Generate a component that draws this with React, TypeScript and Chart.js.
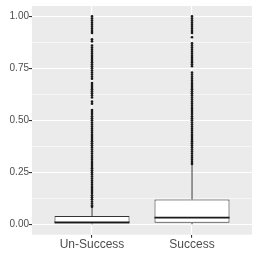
import React, { useEffect, useRef } from "react";
import { Chart, registerables } from "chart.js";
Chart.register(...registerables);

const categories = ["Un-Success", "Success"];
const q1 = [0.004, 0.007];
const medians = [0.0095, 0.032];
const q3 = [0.04, 0.119];
const whiskerLow = [0, 0];
const whiskerHigh = [0.084, 0.285];

const unSuccessOutliers = [
  0.085, 0.09, 0.1, 0.11, 0.12, 0.13, 0.14, 0.15, 0.16, 0.17, 0.18, 0.19, 0.2,
  0.21, 0.22, 0.23, 0.24, 0.25, 0.26, 0.27, 0.28, 0.29, 0.3, 0.31, 0.32, 0.33,
  0.34, 0.35, 0.36, 0.37, 0.38, 0.39, 0.4, 0.41, 0.42, 0.43, 0.44, 0.45, 0.46,
  0.47, 0.48, 0.49, 0.5, 0.51, 0.52, 0.53, 0.54, 0.55, 0.58, 0.59, 0.61, 0.62,
  0.63, 0.64, 0.65, 0.66, 0.67, 0.68, 0.7, 0.71, 0.72, 0.73, 0.74, 0.75, 0.76,
  0.77, 0.78, 0.79, 0.8, 0.81, 0.82, 0.83, 0.84, 0.85, 0.86, 0.88, 0.89, 0.92,
  0.93, 0.94, 0.95, 0.96, 0.97, 0.98, 0.99, 1.0,
];
const successOutliers = [
  0.29, 0.3, 0.31, 0.32, 0.33, 0.34, 0.35, 0.36, 0.37, 0.38, 0.39, 0.4, 0.41,
  0.42, 0.43, 0.44, 0.45, 0.46, 0.47, 0.48, 0.49, 0.5, 0.51, 0.52, 0.53, 0.54,
  0.55, 0.56, 0.57, 0.58, 0.59, 0.6, 0.61, 0.62, 0.63, 0.64, 0.65, 0.66, 0.67,
  0.68, 0.69, 0.7, 0.71, 0.72, 0.73, 0.76, 0.77, 0.78, 0.79, 0.8, 0.81, 0.82,
  0.83, 0.84, 0.85, 0.86, 0.87, 0.9, 0.92, 0.93, 0.94, 0.95, 0.96, 0.97, 0.98,
  0.99, 1.0,
];
const outliers = [unSuccessOutliers, successOutliers];

const yTicks = [0, 0.25, 0.5, 0.75, 1];
const yMinorTicks = [0.125, 0.375, 0.625, 0.875];

const BOX_WIDTH = 0.75;
const LINE = "#333333";
const TEXT = "#4D4D4D";

const bgPlugin = {
  id: "panelBg",
  beforeDraw(chart: any) {
    const { ctx, chartArea } = chart;
    ctx.save();
    ctx.fillStyle = "#EBEBEB";
    ctx.fillRect(chartArea.left, chartArea.top, chartArea.right - chartArea.left, chartArea.bottom - chartArea.top);
    ctx.restore();
  },
};

export default function App() {
  const ref = useRef<HTMLCanvasElement>(null);
  useEffect(() => {
    document.body.style.margin = "0";
    const datasets: any[] = [];
    categories.forEach((_, i) => {
      const x = i + 1;
      datasets.push({
        type: "line",
        data: outliers[i].map((v) => ({ x, y: v })),
        showLine: false,
        pointRadius: 1.3,
        pointBackgroundColor: "#1a1a1a",
        pointBorderWidth: 0,
        order: 0,
      });
      datasets.push({
        type: "line",
        data: [
          { x: x - BOX_WIDTH / 2, y: medians[i] },
          { x: x + BOX_WIDTH / 2, y: medians[i] },
        ],
        borderColor: "#1a1a1a",
        borderWidth: 1.8,
        pointRadius: 0,
        order: 1,
      });
      datasets.push({
        type: "line",
        data: [
          { x, y: q3[i] },
          { x, y: whiskerHigh[i] },
        ],
        borderColor: LINE,
        borderWidth: 1,
        pointRadius: 0,
        order: 3,
      });
      datasets.push({
        type: "line",
        data: [
          { x, y: whiskerLow[i] },
          { x, y: q1[i] },
        ],
        borderColor: LINE,
        borderWidth: 1,
        pointRadius: 0,
        order: 3,
      });
    });
    datasets.push({
      type: "bar",
      data: categories.map((_, i) => ({ x: i + 1, y: [q1[i], q3[i]] })),
      backgroundColor: "#FFFFFF",
      borderColor: LINE,
      borderWidth: 1,
      borderSkipped: false,
      barPercentage: BOX_WIDTH,
      categoryPercentage: 1,
      order: 2,
    });

    const chart = new Chart(ref.current!, {
      type: "bar",
      data: { datasets },
      plugins: [bgPlugin],
      options: {
        animation: false,
        responsive: true,
        maintainAspectRatio: false,
        layout: { padding: { top: 3, right: 4, left: 0, bottom: 0 } },
        plugins: { legend: { display: false }, tooltip: { enabled: false } },
        scales: {
          x: {
            type: "linear",
            min: 0.4,
            max: 2.6,
            offset: false,
            afterBuildTicks: (s: any) => {
              s.ticks = categories.map((_, i) => ({ value: i + 1 }));
            },
            afterFit: (s: any) => {
              s.height = 21.3;
            },
            ticks: {
              autoSkip: false,
              maxRotation: 0,
              padding: 0,
              color: TEXT,
              font: { family: "Liberation Sans", size: 12 },
              callback: (v: any) => categories[Math.round(v) - 1] ?? "",
            },
            grid: { color: "#FFFFFF", lineWidth: 1.1, offset: false, tickColor: LINE, tickLength: 3 },
            border: { display: false },
          },
          y: {
            type: "linear",
            min: -0.05,
            max: 1.05,
            afterBuildTicks: (s: any) => {
              s.ticks = [...yTicks, ...yMinorTicks].sort((a, b) => a - b).map((v) => ({ value: v }));
            },
            afterFit: (s: any) => {
              s.width = 32;
            },
            ticks: {
              autoSkip: false,
              padding: 0,
              color: TEXT,
              font: { family: "Liberation Sans", size: 10 },
              callback: (v: any) => (yTicks.includes(v) ? Number(v).toFixed(2) : ""),
            },
            grid: {
              color: "#FFFFFF",
              lineWidth: (c: any) => (yTicks.includes(c.tick?.value) ? 1.1 : 0.55),
              tickColor: (c: any) => (yTicks.includes(c.tick?.value) ? LINE : "rgba(0,0,0,0)"),
              tickLength: 3,
            },
            border: { display: false },
          },
        },
      } as any,
    });
    return () => chart.destroy();
  }, []);
  return (
    <div style={{ position: "fixed", left: 0, top: 0, width: 256, height: 256 }}>
      <canvas ref={ref} />
    </div>
  );
}
